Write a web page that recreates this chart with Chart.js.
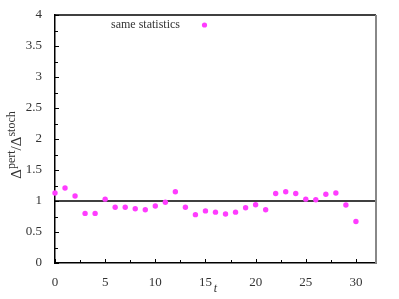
<!DOCTYPE html>
<html>
<head>
<meta charset="utf-8">
<script src="https://cdn.jsdelivr.net/npm/chart.js@4.4.1/dist/chart.umd.min.js"></script>
<style>
  html, body { margin: 0; padding: 0; background: #fff; }
  #wrap { width: 399px; height: 299px; }
</style>
</head>
<body>
<div id="wrap"><canvas id="grafico"></canvas></div>
<script>
// dados
const tempos = [0, 1, 2, 3, 4, 5, 6, 7, 8, 9, 10, 11, 12, 13, 14, 15, 16, 17, 18, 19, 20, 21, 22, 23, 24, 25, 26, 27, 28, 29, 30];
const razoes = [1.13, 1.21, 1.08, 0.80, 0.80, 1.03, 0.90, 0.90, 0.875, 0.86, 0.92, 0.98, 1.15, 0.90, 0.78,
                0.84, 0.82, 0.79, 0.82, 0.89, 0.94, 0.86, 1.12, 1.15, 1.12, 1.03, 1.02, 1.11, 1.13, 0.935, 0.67];
const linhaRef = 1;
const xLimites = [0, 32];
const yLimites = [0, 4];
const xRotulos = [0, 5, 10, 15, 20, 25, 30];
const rotuloSerie = 'same statistics';

const fonteSerif = '"Liberation Serif", "DejaVu Serif", serif';
const corPonto = '#ff3cff';

// ticks internos, bordas de cima/direita, legenda e rótulos dos eixos
const pluginMoldura = {
    id: 'moldura',
    afterDraw(chart) {
        const { ctx, chartArea: a, scales: { x, y } } = chart;
        ctx.save();
        ctx.lineWidth = 1;
        ctx.strokeStyle = '#000';
        // ticks do eixo x (major 5, minor 2.5)
        for (let v = 0; v <= 32; v += 2.5) {
            const px = Math.round(x.getPixelForValue(v)) + 0.5;
            const len = (v % 5 === 0) ? 4 : 3;
            ctx.beginPath();
            ctx.moveTo(px, a.bottom);
            ctx.lineTo(px, a.bottom - len);
            ctx.stroke();
        }
        // ticks do eixo y (major 0.5, minor 0.25)
        for (let v = 0; v <= 4; v += 0.25) {
            const py = Math.round(y.getPixelForValue(v)) + 0.5;
            const len = (v % 0.5 === 0) ? 4 : 3;
            ctx.beginPath();
            ctx.moveTo(a.left, py);
            ctx.lineTo(a.left + len, py);
            ctx.stroke();
        }
        // borda superior e direita
        ctx.lineWidth = 1.5;
        ctx.beginPath();
        ctx.moveTo(a.left, a.top);
        ctx.lineTo(a.right, a.top);
        ctx.stroke();
        ctx.strokeStyle = '#888';
        ctx.lineWidth = 2;
        ctx.beginPath();
        ctx.moveTo(a.right, a.top);
        ctx.lineTo(a.right, a.bottom);
        ctx.stroke();

        // legenda
        ctx.fillStyle = '#333';
        ctx.font = '12px ' + fonteSerif;
        ctx.textAlign = 'right';
        ctx.textBaseline = 'middle';
        ctx.fillText(rotuloSerie, 180, 25);
        ctx.fillStyle = corPonto;
        ctx.beginPath();
        ctx.arc(204.5, 25, 2.6, 0, Math.PI * 2);
        ctx.fill();

        // rótulo do eixo x
        ctx.fillStyle = '#333';
        ctx.font = 'italic 12px ' + fonteSerif;
        ctx.textAlign = 'center';
        ctx.fillText('t', x.getPixelForValue(16), 289);

        // rótulo do eixo y: Δ^pert/Δ^stoch
        ctx.translate(16, 145);
        ctx.rotate(-Math.PI / 2);
        const partes = [
            { t: 'Δ', f: '15px ' + fonteSerif, dy: 0 },
            { t: 'pert', f: '12px ' + fonteSerif, dy: -6 },
            { t: '/Δ', f: '15px ' + fonteSerif, dy: 0 },
            { t: 'stoch', f: '12px ' + fonteSerif, dy: -6 }
        ];
        let total = 0;
        partes.forEach(p => { ctx.font = p.f; total += ctx.measureText(p.t).width; });
        let cx = -total / 2;
        ctx.textAlign = 'left';
        ctx.textBaseline = 'alphabetic';
        partes.forEach(p => {
            ctx.font = p.f;
            ctx.fillText(p.t, cx, 5 + p.dy);
            cx += ctx.measureText(p.t).width;
        });
        ctx.restore();
    }
};

new Chart(document.getElementById('grafico').getContext('2d'), {
    type: 'scatter',
    data: {
        datasets: [
            {
                label: rotuloSerie,
                data: tempos.map((t, i) => ({ x: t, y: razoes[i] })),
                backgroundColor: corPonto,
                borderWidth: 0,
                pointRadius: 2.7,
                clip: false,
                order: 1
            },
            {
                label: 'referência',
                type: 'line',
                data: xLimites.map(v => ({ x: v, y: linhaRef })),
                borderColor: '#000',
                borderWidth: 1.3,
                pointRadius: 0,
                order: 2
            }
        ]
    },
    options: {
        responsive: true,
        maintainAspectRatio: false,
        animation: false,
        layout: { padding: { top: 15, right: 23, left: 0, bottom: 0 } },
        plugins: {
            legend: { display: false },
            tooltip: { enabled: false }
        },
        scales: {
            x: {
                type: 'linear',
                min: xLimites[0],
                max: xLimites[1],
                grid: { display: false },
                border: { display: true, color: '#000', width: 1.5 },
                ticks: {
                    autoSkip: false,
                    padding: 4,
                    color: '#333',
                    font: { family: fonteSerif, size: 13 },
                    maxRotation: 0
                },
                afterBuildTicks(scale) { scale.ticks = xRotulos.map(v => ({ value: v })); },
                afterFit(scale) { scale.height = 36; }
            },
            y: {
                min: yLimites[0],
                max: yLimites[1],
                grid: { display: false },
                border: { display: true, color: '#000', width: 1.5 },
                ticks: {
                    stepSize: 0.5,
                    padding: 5,
                    color: '#333',
                    font: { family: fonteSerif, size: 13 },
                    callback: v => String(v)
                },
                afterFit(scale) { scale.width = 55; }
            }
        }
    },
    plugins: [pluginMoldura]
});
</script>
</body>
</html>
